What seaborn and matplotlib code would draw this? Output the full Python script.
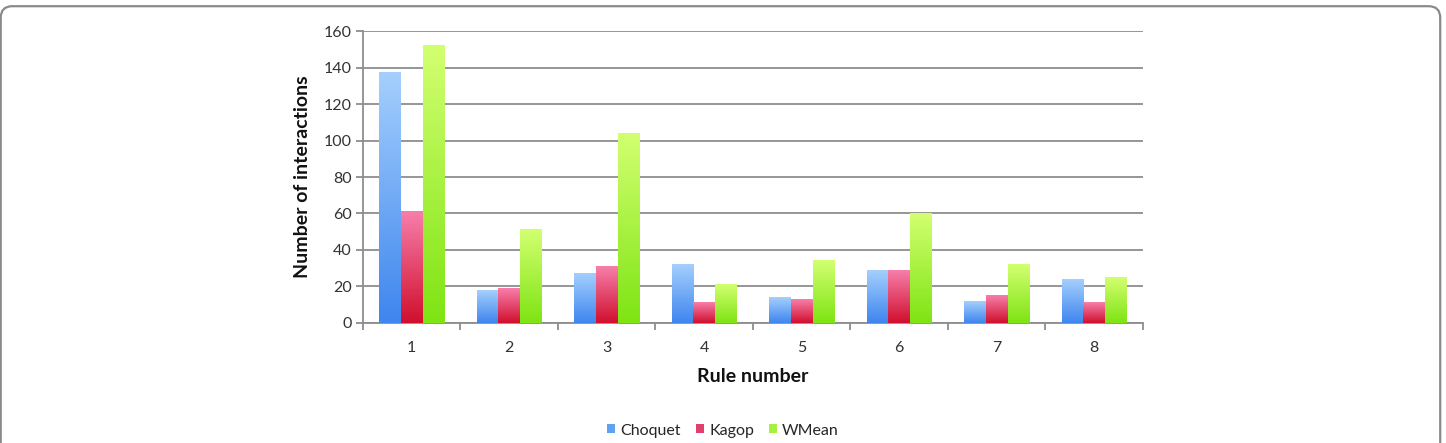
import numpy as np
import pandas as pd
import matplotlib
matplotlib.use("Agg")
import matplotlib.pyplot as plt
import seaborn as sns
from matplotlib.colors import LinearSegmentedColormap
from matplotlib.patches import FancyBboxPatch, Patch

# ---- data ----
rules = ["1", "2", "3", "4", "5", "6", "7", "8"]
choquet = [137, 18, 27, 32, 14, 29, 12, 24]
kagop = [61, 19, 31, 11, 13, 29, 15, 11]
wmean = [152, 51, 104, 21, 34, 60, 32, 25]
methods = ["Choquet", "Kagop", "WMean"]

df = pd.DataFrame({
    "rule": rules * 3,
    "count": choquet + kagop + wmean,
    "method": sum([[m] * len(rules) for m in methods], []),
})

# top / bottom colours of the gradient fill, plus a flat colour for the legend
grad = {
    "Choquet": ("#a4cffd", "#3f86ee"),
    "Kagop": ("#f77eaa", "#d0102e"),
    "WMean": ("#d2ff70", "#7fe414"),
}
flat = {"Choquet": "#5ea3f2", "Kagop": "#e2406c", "WMean": "#a6f040"}

sns.set_theme(style="white")
plt.rcParams["font.family"] = ["Lato", "DejaVu Sans"]

fig = plt.figure(figsize=(14.46, 4.43), dpi=100)
ax = fig.add_axes([0.2510, 0.2709, 0.5394, 0.6591])

sns.barplot(data=df, x="rule", y="count", hue="method", hue_order=methods,
            order=rules, palette=flat, width=0.667, dodge=True, gap=0,
            saturation=1, ax=ax, legend=False, zorder=3)

ax.set_ylim(0, 160)
ax.set_xlim(-0.5, len(rules) - 0.5)
xl, yl = ax.get_xlim(), ax.get_ylim()

# replace flat fills by a vertical gradient, bar by bar
n = len(rules)
for i, bar in enumerate(ax.patches):
    m = methods[i // n]
    x0, y0 = bar.get_x(), bar.get_y()
    w, h = bar.get_width(), bar.get_height()
    cmap = LinearSegmentedColormap.from_list(m, [grad[m][1], grad[m][0]])
    g = np.linspace(0, 1, 64).reshape(-1, 1)
    ax.imshow(g, extent=[x0, x0 + w, y0, y0 + h], origin="lower",
              aspect="auto", cmap=cmap, zorder=3, interpolation="bicubic")
    bar.set_visible(False)

ax.set_xlim(xl)
ax.set_ylim(yl)

gridc = "#8e8e8e"
ax.set_yticks(np.arange(0, 161, 20))
ax.yaxis.grid(True, color=gridc, lw=1.3, zorder=0)
ax.set_axisbelow(True)
for s in ["top", "right"]:
    ax.spines[s].set_visible(False)
for s in ["left", "bottom"]:
    ax.spines[s].set_color(gridc)
    ax.spines[s].set_linewidth(1.3)

# x ticks sit between the categories, labels at the centres
ax.set_xticks(np.arange(-0.5, n, 1.0))
ax.set_xticklabels([])
ax.set_xticks(np.arange(n), labels=rules, minor=True)
ax.tick_params(axis="x", which="major", length=5, width=1.3, color=gridc,
               direction="out", bottom=True)
ax.tick_params(axis="x", which="minor", length=0, pad=13, labelsize=11.5,
               labelcolor="#333333")
ax.tick_params(axis="y", length=5, width=1.3, color=gridc, left=True,
               direction="out", labelsize=11.5, labelcolor="#333333", pad=3)

ax.set_xlabel("Rule number", fontsize=14, fontweight="bold", labelpad=9,
              color="#111111")
ax.set_ylabel("Number of interactions", fontsize=14, fontweight="bold",
              labelpad=9, color="#111111")

handles = [Patch(facecolor=flat[m], edgecolor="none", label=m) for m in methods]
fig.legend(handles=handles, loc="center", bbox_to_anchor=(0.5, 0.028),
           ncol=3, frameon=False, fontsize=11.5, handlelength=0.5,
           handleheight=0.5, handletextpad=0.35, columnspacing=0.9)

# rounded frame round the whole figure (cut at left and bottom)
frame = FancyBboxPatch((0.0005, -0.05), 0.9955, 1.036,
                       boxstyle="round,pad=0,rounding_size=0.008",
                       transform=fig.transFigure, fill=False,
                       edgecolor="#8a8a8a", lw=1.6, mutation_aspect=3.26)
fig.patches.append(frame)

fig.savefig("out.png", dpi=100)
